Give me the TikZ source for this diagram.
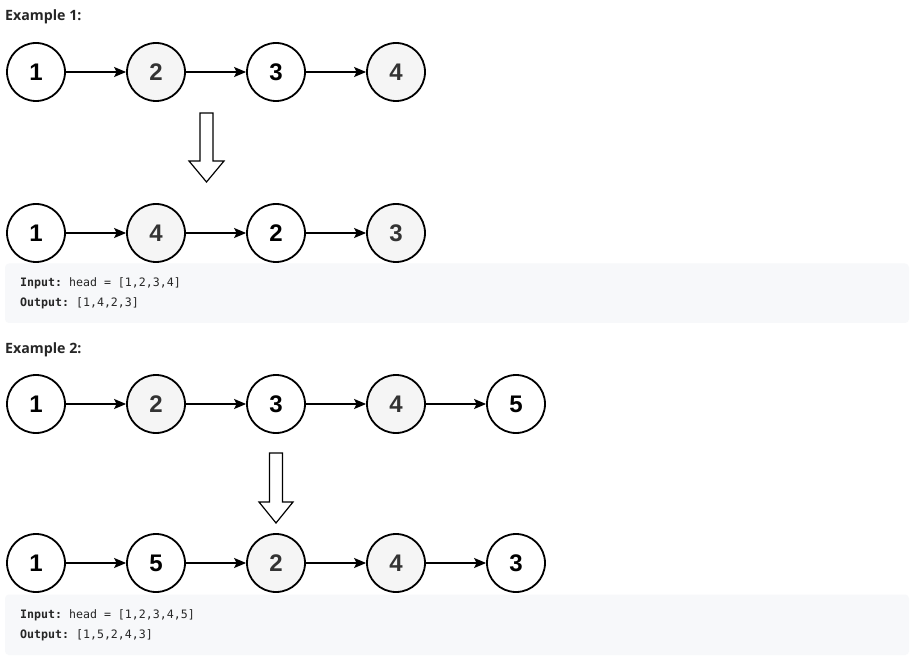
\documentclass[tikz,border=0pt]{standalone}
\usepackage{fontspec}
\setmainfont{Liberation Sans}
\newfontfamily\headfont{Open Sans}
\newfontfamily\codefont{DejaVu Sans Mono}
\usetikzlibrary{arrows.meta}
\definecolor{nodegray}{HTML}{F5F5F5}
\definecolor{numgray}{HTML}{333333}
\definecolor{boxgray}{HTML}{F7F8FA}
\definecolor{txt}{HTML}{262626}
\tikzset{
  lnode/.style={circle, draw=black, line width=1.8pt, minimum size=58pt, inner sep=0pt, fill=white,
    font=\fontsize{24}{26}\selectfont\bfseries},
  gnode/.style={lnode, fill=nodegray, text=numgray},
  link/.style={line width=1.6pt, -{Stealth[length=12pt,width=10pt,inset=2.5pt]}},
  bigarrow/.style={draw=black, line width=1.2pt, fill=white},
  codebox/.style={fill=boxgray, rounded corners=4pt, draw=none},
  head/.style={anchor=base west, inner sep=0pt, text=txt, font=\headfont\fontsize{14.2}{16}\selectfont\bfseries},
  code/.style={anchor=base west, inner sep=0pt, text=txt, font=\codefont\fontsize{11.6}{14}\selectfont}
}
\begin{document}
\begin{tikzpicture}[x=1pt,y=-1pt]
\useasboundingbox (0,0) rectangle (921,668);
\fill[white] (0,0) rectangle (921,668);
% Example 1
\node[head] (h1) at (5,21) {Example 1:};
\node[lnode] (a1) at (36,72) {1};
\node[gnode] (a2) at (156,72) {2};
\node[lnode] (a3) at (276,72) {3};
\node[gnode] (a4) at (396,72) {4};
\draw[link] (a1) -- (a2);
\draw[link] (a2) -- (a3);
\draw[link] (a3) -- (a4);
\draw[bigarrow] (200,113) -- (213,113) -- (213,161) -- (224,161) -- (206.5,182) -- (189,161) -- (200,161) -- cycle;
\node[lnode] (b1) at (36,233) {1};
\node[gnode] (b2) at (156,233) {4};
\node[lnode] (b3) at (276,233) {2};
\node[gnode] (b4) at (396,233) {3};
\draw[link] (b1) -- (b2);
\draw[link] (b2) -- (b3);
\draw[link] (b3) -- (b4);
\path[codebox] (5,263.5) rectangle (909,323);
\node[code] (i1) at (20,287) {\textbf{Input:}\ head = [1,2,3,4]};
\node[code] (o1) at (20,307) {\textbf{Output:}\ [1,4,2,3]};
% Example 2
\node[head] (h2) at (5,353) {Example 2:};
\node[lnode] (c1) at (36,404) {1};
\node[gnode] (c2) at (156,404) {2};
\node[lnode] (c3) at (276,404) {3};
\node[gnode] (c4) at (396,404) {4};
\node[lnode] (c5) at (516,404) {5};
\draw[link] (c1) -- (c2);
\draw[link] (c2) -- (c3);
\draw[link] (c3) -- (c4);
\draw[link] (c4) -- (c5);
\draw[bigarrow] (269.5,453) -- (282.5,453) -- (282.5,502) -- (293,502) -- (276,523) -- (259,502) -- (269.5,502) -- cycle;
\node[lnode] (d1) at (36,563) {1};
\node[lnode] (d2) at (156,563) {5};
\node[gnode] (d3) at (276,563) {2};
\node[gnode] (d4) at (396,563) {4};
\node[lnode] (d5) at (516,563) {3};
\draw[link] (d1) -- (d2);
\draw[link] (d2) -- (d3);
\draw[link] (d3) -- (d4);
\draw[link] (d4) -- (d5);
\path[codebox] (5,594.5) rectangle (909,655);
\node[code] (i2) at (20,618) {\textbf{Input:}\ head = [1,2,3,4,5]};
\node[code] (o2) at (20,638) {\textbf{Output:}\ [1,5,2,4,3]};
\end{tikzpicture}
\end{document}
